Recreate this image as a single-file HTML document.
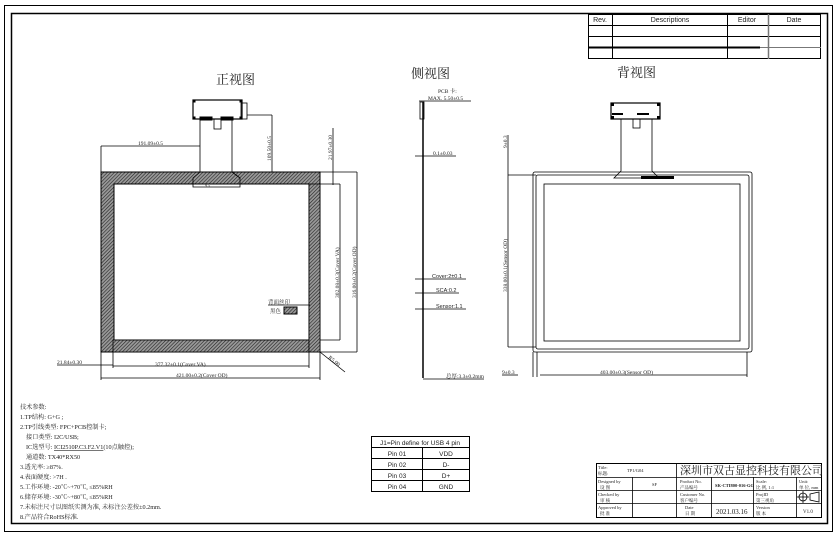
<!DOCTYPE html>
<html><head><meta charset="utf-8"><style>
html,body{margin:0;padding:0;background:#fff}
svg{display:block}
text{font-family:"Liberation Serif","Noto Serif CJK SC",serif;fill:#222}
.s{font-family:"Liberation Sans","Noto Sans CJK SC",sans-serif}
</style></head><body>
<svg width="835" height="535" viewBox="0 0 835 535" xmlns="http://www.w3.org/2000/svg">
<defs>
<pattern id="h" width="2.5" height="2.5" patternUnits="userSpaceOnUse" patternTransform="rotate(45)">
<rect width="2.5" height="2.5" fill="#999"/><line x1="0" y1="0" x2="0" y2="2.5" stroke="#222" stroke-width="1.2"/>
</pattern>
</defs>
<g fill="none" stroke="#000">
<rect x="4.5" y="5.5" width="828" height="526" stroke-width="1"/>
<rect x="11.5" y="13.5" width="816" height="510" stroke-width="1.5"/>
</g>
<!-- Rev table -->
<g stroke="#000" stroke-width="1" fill="none">
<rect x="588.5" y="14.5" width="232" height="44"/>
<line x1="588" y1="25.5" x2="821" y2="25.5"/>
<line x1="588" y1="36.5" x2="821" y2="36.5"/>
<line x1="588" y1="47.5" x2="760" y2="47.5" stroke-width="2"/>
<line x1="760" y1="47.5" x2="821" y2="47.5" stroke="#777"/>
<line x1="612.5" y1="14" x2="612.5" y2="59"/>
<line x1="727.5" y1="14" x2="727.5" y2="59"/>
<line x1="768.5" y1="14" x2="768.5" y2="59" stroke="#777" stroke-width="1.5"/>
</g>
<g class="s" font-size="7" text-anchor="middle">
<text class="s" x="600" y="22">Rev.</text>
<text class="s" x="670" y="22">Descriptions</text>
<text class="s" x="747" y="22">Editor</text>
<text class="s" x="794" y="22">Date</text>
</g>

<!-- Titles -->
<text x="216" y="84" font-size="13">正视图</text>
<text x="411" y="78" font-size="13">侧视图</text>
<text x="617" y="77" font-size="13">背视图</text>

<!-- Front view -->
<rect x="101" y="172" width="219" height="180" fill="url(#h)" stroke="#000"/>
<rect x="114" y="184" width="195" height="156" fill="#fff" stroke="#000"/>
<rect x="113" y="340" width="196" height="12" fill="url(#h)" stroke="#000" stroke-width="0.8"/>
<rect x="309" y="184" width="11" height="168" fill="url(#h)" stroke="#000" stroke-width="0.8"/>
<g stroke="#000" fill="none" stroke-width="0.8">
<rect x="193" y="100" width="49" height="19" stroke-width="1.2"/>
<rect x="241" y="103" width="6" height="16"/>
<path d="M200 119 V172 L193 178 V187 H240 V178 L232 172 V119"/>
<rect x="214" y="119" width="7" height="10"/>
<line x1="101" y1="146" x2="200" y2="146"/><line x1="101" y1="146" x2="101" y2="172"/>
<line x1="247" y1="115" x2="272" y2="115"/><line x1="272" y1="115" x2="272" y2="172"/>
<line x1="333" y1="128" x2="333" y2="185"/>
<line x1="320" y1="172" x2="357" y2="172"/><line x1="320" y1="184" x2="340" y2="184"/>
<line x1="340" y1="184" x2="340" y2="340"/><line x1="357" y1="172" x2="357" y2="352"/>
<line x1="320" y1="340" x2="340" y2="340"/><line x1="320" y1="352" x2="357" y2="352"/>
<line x1="113" y1="352" x2="113" y2="368"/><line x1="309" y1="352" x2="309" y2="368"/>
<line x1="101" y1="352" x2="101" y2="380"/><line x1="320" y1="352" x2="320" y2="380"/>
<line x1="113" y1="366" x2="309" y2="366"/><line x1="101" y1="378" x2="320" y2="378"/>
<line x1="57" y1="365" x2="113" y2="365"/>
<line x1="320" y1="352" x2="345" y2="372"/>
<line x1="268" y1="305" x2="310" y2="305"/>
</g>
<g stroke="#000" fill="#000"><rect x="200" y="117" width="12" height="3"/><rect x="221" y="117" width="12" height="3"/>
<rect x="193" y="100" width="2" height="2"/><rect x="240" y="100" width="2" height="2"/><rect x="193" y="117" width="2" height="2"/><rect x="240" y="117" width="2" height="2"/></g>
<rect x="284" y="307" width="13" height="7" fill="url(#h)" stroke="#000"/>
<g font-size="5.5">
<text x="138" y="145">191.09±0.5</text>
<text x="268" y="304">背面丝印</text>
<text x="270" y="313">黑色</text>
<text x="155" y="366">377.32±0.1(Cover VA)</text>
<text x="176" y="377">421.00±0.2(Cover OD)</text>
<text x="57" y="364">21.84±0.30</text>
<text transform="translate(271,161) rotate(-90)">109.50±0.5</text>
<text transform="translate(332,160) rotate(-90)">21.97±0.30</text>
<text transform="translate(339,298) rotate(-90)">302.08±0.3(Cover VA)</text>
<text transform="translate(356,298) rotate(-90)">316.00±0.2(Cover OD)</text>
<text transform="translate(328,358) rotate(40)">R5.00</text>
<text x="205" y="187" font-size="4">9.5</text>
</g>

<!-- Side view -->
<g stroke="#000" fill="none">
<line x1="423" y1="102" x2="423" y2="378" stroke-width="1.5"/>
<rect x="420" y="102" width="4" height="17" stroke-width="0.8"/>
<g stroke-width="0.7">
<line x1="419" y1="101" x2="471" y2="101"/>
<line x1="415" y1="156" x2="456" y2="156"/>
<line x1="415" y1="279" x2="466" y2="279"/>
<line x1="415" y1="293" x2="459" y2="293"/>
<line x1="415" y1="309" x2="466" y2="309"/>
<line x1="423" y1="379" x2="484" y2="379"/>
</g></g>
<g font-size="5.5">
<text x="438" y="93">PCB 卡:</text>
<text x="428" y="100">MAX. 5.50±0.5</text>
<text x="433" y="155">0.1±0.03</text>
<text class="s" x="432" y="278">Cover:2±0.1</text>
<text class="s" x="436" y="292">SCA:0.2</text>
<text class="s" x="436" y="308">Sensor:1.1</text>
<text x="446" y="378">总厚:3.3±0.2mm</text>
</g>

<!-- Back view -->
<g stroke="#000" fill="none" stroke-width="0.8">
<rect x="611" y="103" width="49" height="16" stroke-width="1.2"/>
<path d="M621 119 V171 L614 178 H659 L652 171 V119"/>
<rect x="633" y="119" width="7" height="9"/>
<rect x="533" y="172" width="219" height="180" rx="2"/>
<rect x="536" y="175" width="213" height="174" rx="2"/>
<rect x="544" y="184" width="196" height="157"/>
<line x1="508" y1="135" x2="508" y2="347"/>
<line x1="508" y1="175" x2="536" y2="175"/><line x1="508" y1="347" x2="536" y2="347"/>
<line x1="533" y1="352" x2="533" y2="377"/><line x1="537" y1="352" x2="537" y2="377"/>
<line x1="747" y1="352" x2="747" y2="377"/>
<line x1="540" y1="375" x2="747" y2="375"/>
<line x1="502" y1="375" x2="518" y2="375"/>
</g>
<g fill="#000"><rect x="612" y="113" width="11" height="2"/><rect x="637" y="113" width="12" height="2"/><rect x="641" y="176" width="33" height="3"/>
<rect x="611" y="103" width="3" height="3"/><rect x="657" y="103" width="3" height="3"/><rect x="611" y="116" width="3" height="3"/><rect x="657" y="116" width="3" height="3"/></g>
<g font-size="5.5">
<text transform="translate(507,148) rotate(-90)">9±0.3</text>
<text transform="translate(507,292) rotate(-90)">338.00±0.1(Sensor OD)</text>
<text x="502" y="374">9±0.3</text>
<text x="600" y="374">403.00±0.3(Sensor OD)</text>
</g>

<!-- Tech params -->
<g font-size="6.2">
<text x="20" y="409">技术参数:</text>
<text x="20" y="419">1.TP结构: G+G ;</text>
<text x="20" y="429">2.TP引线类型: FPC+PCB控制卡;</text>
<text x="26" y="439">接口类型: I2C/USB;</text>
<text x="26" y="449">IC选型号: <tspan text-decoration="underline">ICI2510P.C3.F2.V1</tspan>(10点触控);</text>
<text x="26" y="459">通道数: TX40*RX50</text>
<text x="20" y="469">3.透光率: ≥87%.</text>
<text x="20" y="479">4.表面硬度: &gt;7H .</text>
<text x="20" y="489">5.工作环境: -20℃~+70℃, ≤85%RH</text>
<text x="20" y="499">6.储存环境: -30℃~+80℃, ≤85%RH</text>
<text x="20" y="509">7.未标注尺寸以图纸实测为准, 未标注公差按±0.2mm.</text>
<text x="20" y="519">8.产品符合RoHS标准.</text>
</g>

<!-- Pin table -->
<g stroke="#000" fill="none" stroke-width="1">
<rect x="371.5" y="436.5" width="98" height="55"/>
<line x1="371" y1="447.5" x2="470" y2="447.5"/>
<line x1="371" y1="458.5" x2="470" y2="458.5"/>
<line x1="371" y1="469.5" x2="470" y2="469.5"/>
<line x1="371" y1="480.5" x2="470" y2="480.5"/>
<line x1="422.5" y1="447" x2="422.5" y2="492"/>
</g>
<g class="s" font-size="6.5" text-anchor="middle">
<text class="s" x="420" y="445">J1=Pin define for USB 4 pin</text>
<text class="s" x="397" y="456">Pin 01</text><text class="s" x="446" y="456">VDD</text>
<text class="s" x="397" y="467">Pin 02</text><text class="s" x="446" y="467">D-</text>
<text class="s" x="397" y="478">Pin 03</text><text class="s" x="446" y="478">D+</text>
<text class="s" x="397" y="489">Pin 04</text><text class="s" x="446" y="489">GND</text>
</g>

<!-- Title block -->
<g stroke="#000" fill="none" stroke-width="0.8">
<rect x="596.5" y="463.5" width="225" height="54" stroke-width="1"/>
<line x1="596" y1="477.5" x2="822" y2="477.5"/>
<line x1="596" y1="490.5" x2="822" y2="490.5"/>
<line x1="596" y1="503.5" x2="822" y2="503.5"/>
<line x1="676.5" y1="463" x2="676.5" y2="518"/>
<line x1="632.5" y1="477" x2="632.5" y2="518"/>
<line x1="711.5" y1="477" x2="711.5" y2="518"/>
<line x1="753.5" y1="477" x2="753.5" y2="518"/>
<line x1="796.5" y1="477" x2="796.5" y2="518"/>
</g>
<g font-size="4.5">
<text x="598" y="469">Title:</text><text x="598" y="475">标题:</text><text x="627" y="472">TP1/G04</text>
<text x="598" y="483">Designed by</text><text x="600" y="489">设 图</text><text x="652" y="486">SF</text>
<text x="598" y="496">Checked by</text><text x="600" y="502">审 核</text>
<text x="598" y="509">Approved by</text><text x="600" y="515">批 准</text>
<text x="680" y="483">Product No.</text><text x="680" y="489">产品编号</text>
<text x="680" y="496">Customer No.</text><text x="680" y="502">客户编号</text>
<text x="685" y="509">Date</text><text x="685" y="515">日 期</text>
<text x="756" y="483">Scale:</text><text x="756" y="489">比 例, 1:1</text>
<text x="756" y="496">ProjID</text><text x="756" y="502">第三视角</text>
<text x="756" y="509">Version</text><text x="756" y="515">版 本</text>
<text x="799" y="483">Unit:</text><text x="799" y="489">单 位, mm</text>
<text x="803" y="513" font-size="5">V1.0</text>
<text x="715" y="487" font-size="4.5" font-weight="bold">SK-CTI800-016-GG</text>
</g>
<text x="680" y="474" font-size="11">深圳市双古显控科技有限公司</text>
<text x="716" y="514" font-size="7">2021.03.16</text>
<g stroke="#000" fill="none" stroke-width="0.8">
<circle cx="803" cy="497" r="4"/><line x1="797" y1="497" x2="809" y2="497"/><line x1="803" y1="491" x2="803" y2="503"/>
<path d="M810 494 L819 492 V502 L810 500 Z"/>
</g>
</svg>
</body></html>
